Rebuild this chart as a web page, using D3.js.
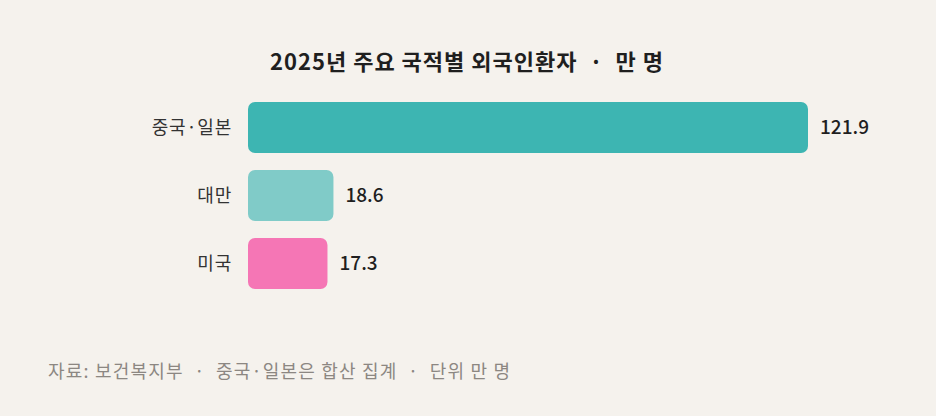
<!DOCTYPE html>
<html><head><meta charset="utf-8">
<script src="https://cdn.jsdelivr.net/npm/d3@7"></script>
<style>
body{margin:0;background:#f5f2ed;}
text{font-family:"Noto Sans CJK KR","Noto Sans",sans-serif;}
</style></head>
<body><svg id="chart" width="936" height="416"></svg>
<script>
var categories = ['중국·일본', '대만', '미국'];
var values = [121.9, 18.6, 17.3];
var colors = ['#3db5b2', '#80cbc8', '#f576b5'];

var svg = d3.select('#chart');
svg.append('rect').attr('width', 936).attr('height', 416).attr('fill', '#f5f2ed');

var x = d3.scaleLinear().domain([0, 121.9]).range([248, 808]);
var y = d3.scaleBand().domain(categories).range([102, 289]).paddingInner(0.25).paddingOuter(0);

svg.append('text')
  .attr('x', 467).attr('y', 70)
  .attr('text-anchor', 'middle')
  .attr('font-size', 22).attr('font-weight', 600).attr('fill', '#1f1f1f')
  .attr('letter-spacing', 1)
  .attr('xml:space', 'preserve')
  .text('2025년 주요 국적별 외국인환자  ·  만 명');

var rows = svg.selectAll('g.row')
  .data(categories)
  .enter()
  .append('g').attr('class', 'row');

rows.append('rect')
  .attr('x', x(0))
  .attr('y', function(d) { return y(d); })
  .attr('width', function(d, i) { return x(values[i]) - x(0); })
  .attr('height', y.bandwidth())
  .attr('rx', 7)
  .attr('fill', function(d, i) { return colors[i]; });

rows.append('text')
  .attr('x', 232)
  .attr('y', function(d) { return y(d) + y.bandwidth() / 2; })
  .attr('dy', '0.35em')
  .attr('text-anchor', 'end')
  .attr('font-size', 18).attr('fill', '#333').attr('letter-spacing', 0.8)
  .text(function(d) { return d; });

rows.append('text')
  .attr('x', function(d, i) { return x(values[i]) + 12; })
  .attr('y', function(d) { return y(d) + y.bandwidth() / 2; })
  .attr('dy', '0.35em')
  .attr('font-size', 19).attr('font-weight', 500).attr('fill', '#1f1f1f')
  .text(function(d, i) { return values[i].toFixed(1); });

svg.append('text')
  .attr('x', 48).attr('y', 378)
  .attr('font-size', 18).attr('fill', '#8c8782')
  .attr('letter-spacing', 1.2)
  .attr('xml:space', 'preserve')
  .text('자료: 보건복지부  ·  중국·일본은 합산 집계  ·  단위 만 명');
</script></body></html>
